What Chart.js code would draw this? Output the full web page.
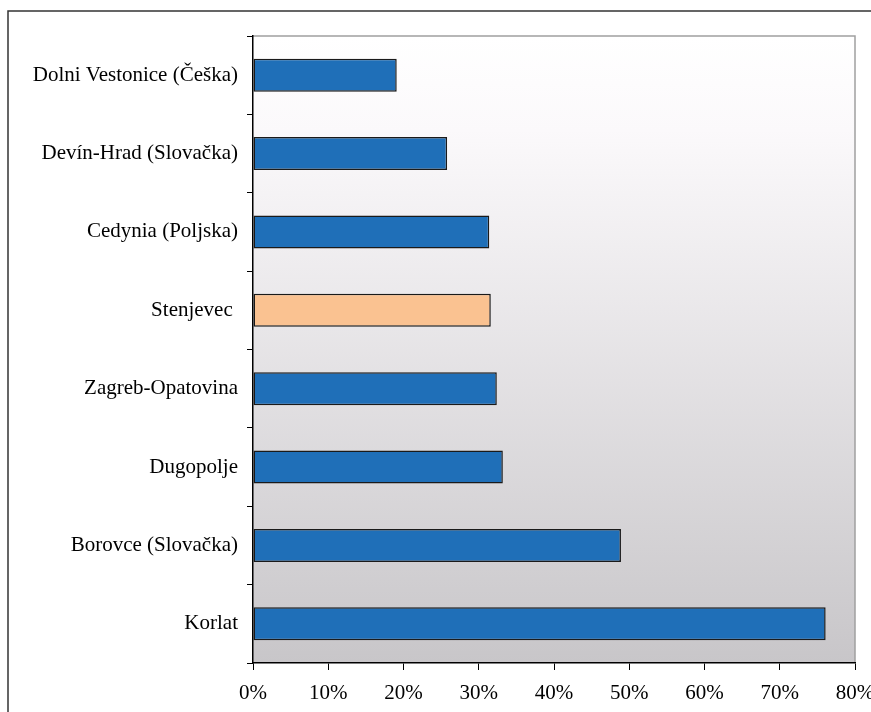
<!DOCTYPE html>
<html>
<head>
<meta charset="utf-8">
<script src="https://cdn.jsdelivr.net/npm/chart.js@4.4.1/dist/chart.umd.min.js"></script>
<style>
  html, body { margin: 0; padding: 0; background: #fff; }
  #wrap { width: 871px; height: 712px; position: relative; }
</style>
</head>
<body>
<div id="wrap"><canvas id="chart" width="871" height="712"></canvas></div>
<script>
// Podaci
const categories = [
    'Dolni Vestonice (Češka)',
    'Devín-Hrad (Slovačka)',
    'Cedynia (Poljska)',
    'Stenjevec ',
    'Zagreb-Opatovina',
    'Dugopolje',
    'Borovce (Slovačka)',
    'Korlat'
];
const values = [19.1, 25.8, 31.4, 31.6, 32.4, 33.2, 48.9, 76.1];
const barColors = ['#1f6fb8', '#1f6fb8', '#1f6fb8', '#fac291', '#1f6fb8', '#1f6fb8', '#1f6fb8', '#1f6fb8'];
const xTicks = [0, 10, 20, 30, 40, 50, 60, 70, 80];

const serif = "'Liberation Serif', 'Times New Roman', serif";

// okvir i pozadina područja grafa
const backdrop = {
    id: 'backdrop',
    beforeDraw(chart) {
        const ctx = chart.ctx;
        const a = chart.chartArea;
        ctx.save();
        // vanjski okvir
        ctx.strokeStyle = '#333';
        ctx.lineWidth = 1.5;
        ctx.beginPath();
        ctx.moveTo(8, 712);
        ctx.lineTo(8, 11);
        ctx.lineTo(871, 11);
        ctx.stroke();
        // gradijent
        const g = ctx.createLinearGradient(0, a.top, 0, a.bottom);
        g.addColorStop(0, '#ffffff');
        g.addColorStop(0.15, '#fbf9fb');
        g.addColorStop(1, '#c8c6c9');
        ctx.fillStyle = g;
        ctx.fillRect(a.left, a.top, a.right - a.left, a.bottom - a.top);
        ctx.strokeStyle = '#a0a0a0';
        ctx.lineWidth = 1.5;
        ctx.beginPath();
        ctx.moveTo(a.left, a.top);
        ctx.lineTo(a.right, a.top);
        ctx.lineTo(a.right, a.bottom);
        ctx.stroke();
        ctx.restore();
    }
};

new Chart(document.getElementById('chart'), {
    type: 'bar',
    data: {
        labels: categories,
        datasets: [{
            data: values,
            backgroundColor: barColors,
            borderColor: '#1a1a1a',
            borderWidth: 1.5,
            borderSkipped: false,
            categoryPercentage: 1,
            barPercentage: 0.42
        }]
    },
    options: {
        indexAxis: 'y',
        responsive: false,
        animation: false,
        layout: { padding: { top: 36, right: 16, left: 0, bottom: 0 } },
        plugins: {
            legend: { display: false },
            tooltip: { enabled: false }
        },
        scales: {
            x: {
                min: 0,
                max: 80,
                afterBuildTicks(scale) {
                    scale.ticks = xTicks.map(v => ({ value: v }));
                },
                afterFit(scale) {
                    scale.height = 712 - 663;
                    scale.paddingLeft = 0;
                    scale.paddingRight = 0;
                },
                grid: {
                    drawOnChartArea: false,
                    drawTicks: true,
                    tickLength: 7,
                    color: '#000'
                },
                border: { color: '#000', width: 1.5 },
                ticks: {
                    color: '#000',
                    padding: 11,
                    font: { family: serif, size: 21 },
                    callback: v => v + '%'
                }
            },
            y: {
                afterFit(scale) {
                    scale.width = 253;
                    scale.paddingTop = 0;
                    scale.paddingBottom = 0;
                },
                grid: {
                    drawOnChartArea: false,
                    offset: true,
                    tickLength: 6,
                    color: '#000'
                },
                border: { color: '#000', width: 1.5 },
                ticks: {
                    color: '#000',
                    padding: 9,
                    font: { family: serif, size: 21 }
                }
            }
        }
    },
    plugins: [backdrop]
});
</script>
</body>
</html>
